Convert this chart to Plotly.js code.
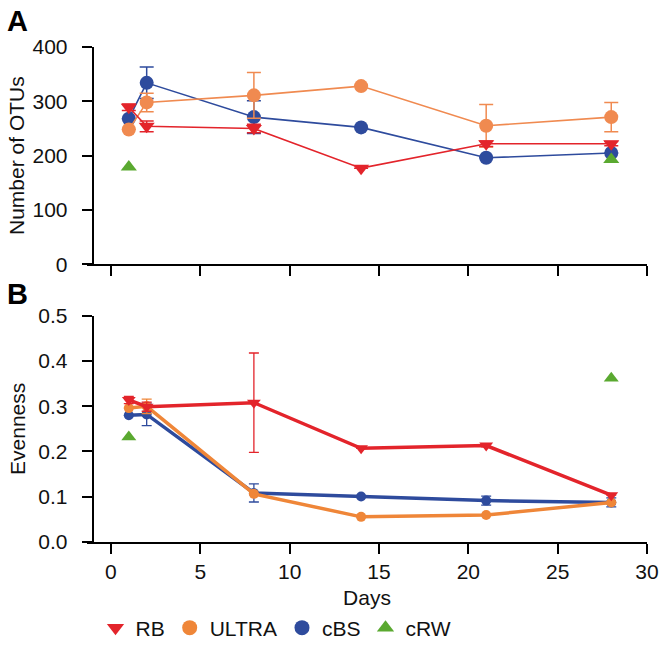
<!DOCTYPE html>
<html>
<head>
<meta charset="utf-8">
<script src="https://cdn.plot.ly/plotly-3.0.1.min.js"></script>
<style>
  html, body { margin: 0; padding: 0; background: #fff; }
  #chart { width: 664px; height: 653px; }
</style>
</head>
<body>
<div id="chart"></div>
<script>
// sampling days
const days = [1, 2, 8, 14, 21, 28];
const daysRW = [1, 28];

// panel A: number of OTUs
const otuRB = [289, 254, 250, 177, 222, 222];
const otuRBerr = [6, 10, 8, 0, 5, 4];
const otuULTRA = [248, 298, 311, 328, 255, 271];
const otuULTRAerr = [0, 17, 42, 0, 39, 27];
const otuCBS = [268, 334, 271, 252, 196, 205];
const otuCBSerr = [0, 29, 30, 0, 0, 0];
const otuRW = [179, 193];

// panel B: evenness
const evRB = [0.314, 0.299, 0.308, 0.207, 0.213, 0.103];
const evRBerr = [0.008, 0.01, 0.11, 0, 0.003, 0];
const evULTRA = [0.296, 0.300, 0.106, 0.055, 0.059, 0.087];
const evULTRAerr = [0, 0.016, 0, 0, 0, 0];
const evCBS = [0.280, 0.282, 0.108, 0.100, 0.091, 0.087];
const evCBSerr = [0, 0.025, 0.02, 0, 0.01, 0.01];
const evRW = [0.232, 0.362];

const seriesNames = ['RB', 'ULTRA', 'cBS', 'cRW'];

const RED = '#e3242b';
const ORANGE_A = '#f08a50';
const ORANGE_B = '#ef8638';
const BLUE = '#2e4b9d';
const GREEN = '#5aa930';

// page geometry (px) - bottom margin kept tiny so the legend sits inside the paper
const W = 664, H = 653;
const M = { l: 87, r: 17, t: 47, b: 4 };
const plotW = W - M.l - M.r;
const plotH = H - M.t - M.b;
const px2x = p => (p - M.l) / plotW;
const px2y = p => (H - M.b - p) / plotH;

function lineTrace(x, y, err, color, symbol, xa, ya, lw, ms, errW, thick) {
    return {
        x: x, y: y, xaxis: xa, yaxis: ya,
        type: 'scatter', mode: 'lines+markers', showlegend: false,
        line: { color: color, width: lw },
        marker: { color: color, symbol: symbol, size: ms },
        error_y: { type: 'data', array: err, visible: true, color: color, thickness: thick, width: errW },
        cliponaxis: false
    };
}

const data = [
    // panel A (top)
    lineTrace(days, otuCBS, otuCBSerr, BLUE, 'circle', 'x2', 'y2', 1.6, 14, 7, 1.5),
    lineTrace(days, otuULTRA, otuULTRAerr, ORANGE_A, 'circle', 'x2', 'y2', 1.6, 14, 7, 1.5),
    lineTrace(days, otuRB, otuRBerr, RED, 'triangle-down', 'x2', 'y2', 1.6, 14, 7, 1.5),
    { x: daysRW, y: otuRW, xaxis: 'x2', yaxis: 'y2', type: 'scatter', mode: 'markers', showlegend: false,
      marker: { color: GREEN, symbol: 'triangle-up', size: 14 }, cliponaxis: false },
    // panel B (bottom)
    lineTrace(days, evCBS, evCBSerr, BLUE, 'circle', 'x', 'y', 3.5, 10, 5, 1.3),
    lineTrace(days, evULTRA, evULTRAerr, ORANGE_B, 'circle', 'x', 'y', 3.5, 10, 5, 1.3),
    lineTrace(days, evRB, evRBerr, RED, 'triangle-down', 'x', 'y', 3.5, 12, 5, 1.3),
    { x: daysRW, y: evRW, xaxis: 'x', yaxis: 'y', type: 'scatter', mode: 'markers', showlegend: false,
      marker: { color: GREEN, symbol: 'triangle-up', size: 13 }, cliponaxis: false }
];

// legend-only entries (marker symbols, no lines)
const legendSymbols = ['triangle-down', 'circle', 'circle', 'triangle-up'];
const legendColors = [RED, ORANGE_B, BLUE, GREEN];
seriesNames.forEach((name, i) => {
    data.push({
        x: [null], y: [null], type: 'scatter', mode: 'markers', name: name,
        marker: { color: legendColors[i], symbol: legendSymbols[i], size: 15 },
        showlegend: true
    });
});

const FONT = 'Liberation Sans, Arial, Helvetica, sans-serif';
const FS = 21;
const xRange = [-1.34, 30];
const yAxisPos = px2x(92.7);

const baseX = {
    range: xRange, showgrid: false, zeroline: false,
    showline: true, linecolor: '#000', linewidth: 2,
    ticks: 'outside', ticklen: 10, tickwidth: 2, tickcolor: '#000',
    tickvals: [0, 5, 10, 15, 20, 25, 30],
    tickfont: { family: FONT, size: FS, color: '#111' },
    fixedrange: true
};
const baseY = {
    showgrid: false, zeroline: false,
    showline: true, linecolor: '#000', linewidth: 2,
    ticks: 'outside', ticklen: 10, tickwidth: 2, tickcolor: '#000',
    tickfont: { family: FONT, size: FS, color: '#111' },
    ticklabelstandoff: 10,
    anchor: 'free', position: yAxisPos,
    fixedrange: true
};

const layout = {
    width: W, height: H,
    margin: M,
    paper_bgcolor: '#fff', plot_bgcolor: '#fff',
    font: { family: FONT, size: FS, color: '#111' },
    xaxis: Object.assign({}, baseX, {
        anchor: 'y', domain: [0, 1],
        title: { text: 'Days', font: { family: FONT, size: FS, color: '#111' }, standoff: 8 }
    }),
    yaxis: Object.assign({}, baseY, {
        domain: [px2y(541.7), px2y(316)], range: [0, 0.5],
        tickvals: [0, 0.1, 0.2, 0.3, 0.4, 0.5], tickformat: '.1f',
        title: { text: 'Evenness', font: { family: FONT, size: FS, color: '#111' }, standoff: 6 }
    }),
    xaxis2: Object.assign({}, baseX, {
        anchor: 'y2', domain: [0, 1], showticklabels: false
    }),
    yaxis2: Object.assign({}, baseY, {
        domain: [px2y(264.3), 1], range: [0, 400],
        tickvals: [0, 100, 200, 300, 400],
        title: { text: 'Number of OTUs', font: { family: FONT, size: FS, color: '#111' }, standoff: 1 }
    }),
    showlegend: true,
    legend: {
        orientation: 'h', x: px2x(276), xanchor: 'center', y: px2y(628), yanchor: 'middle',
        font: { family: FONT, size: FS, color: '#111' },
        itemwidth: 30, tracegroupgap: 0, bgcolor: 'rgba(0,0,0,0)'
    },
    annotations: [
        { text: '<b>A</b>', xref: 'paper', yref: 'paper', x: px2x(5), y: px2y(21),
          xanchor: 'left', yanchor: 'middle', showarrow: false,
          font: { family: FONT, size: 29, color: '#000' } },
        { text: '<b>B</b>', xref: 'paper', yref: 'paper', x: px2x(5), y: px2y(294),
          xanchor: 'left', yanchor: 'middle', showarrow: false,
          font: { family: FONT, size: 29, color: '#000' } }
    ]
};

Plotly.newPlot('chart', data, layout, { displayModeBar: false, staticPlot: true });
</script>
</body>
</html>
